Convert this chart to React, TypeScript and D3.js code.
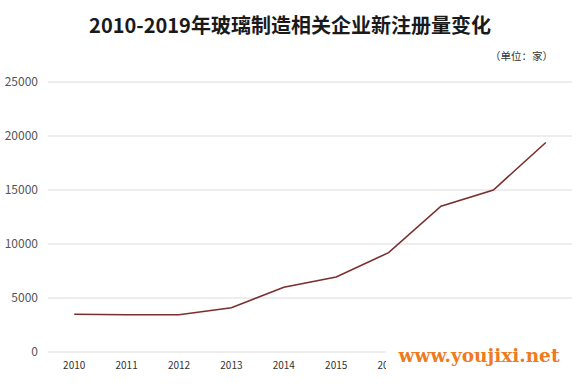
import React from 'react';
import * as d3 from 'd3';

const years = ['2010', '2011', '2012', '2013', '2014', '2015', '2016', '2017', '2018', '2019'];
const registrations = [3500, 3450, 3450, 4100, 6000, 6950, 9200, 13500, 15000, 19400];
const yTicks = [0, 5000, 10000, 15000, 20000, 25000];

const width = 580;
const height = 392;
const margin = { top: 82, right: 8, bottom: 40, left: 48 };
// white box of the watermark, it hides the last axis labels
const wm = { x: 386, y: 344 };

const App = () => {
  const x = d3.scaleBand<string>()
    .domain(years)
    .range([margin.left, width - margin.right]);

  const y = d3.scaleLinear()
    .domain([0, 25000])
    .range([height - margin.bottom, margin.top]);

  const cx = (yr: string) => (x(yr) as number) + x.bandwidth() / 2;

  const line = d3.line<number>()
    .x((_, i) => cx(years[i]))
    .y(d => y(d));

  const font = '"Noto Sans CJK SC", "Noto Sans", sans-serif';

  return (
    <svg
      width={width}
      height={height}
      style={{ position: 'absolute', left: 0, top: 0, background: '#fff' }}
    >
      <text
        x={290}
        y={33}
        textAnchor="middle"
        fontFamily={font}
        fontWeight="bold"
        fontSize={20}
        fill="#1a1a1a"
      >
        2010-2019年玻璃制造相关企业新注册量变化
      </text>
      <text x={553} y={60} textAnchor="end" fontFamily={font} fontSize={10.5} fill="#333">
        （单位：家）
      </text>

      {/* gridlines + y labels */}
      {yTicks.map(t => (
        <g key={t}>
          <line
            x1={margin.left}
            x2={width - margin.right}
            y1={y(t)}
            y2={y(t)}
            stroke="#dcdcdc"
            strokeWidth={1}
          />
          <text
            x={38}
            y={y(t)}
            dy="0.35em"
            textAnchor="end"
            fontFamily={font}
            fontSize={12}
            fill="#555"
          >
            {t}
          </text>
        </g>
      ))}

      {/* x labels (those fully under the watermark are not visible) */}
      {years.filter(yr => cx(yr) - 10 < wm.x).map(yr => (
        <text
          key={yr}
          x={cx(yr)}
          y={369}
          textAnchor="middle"
          fontFamily={font}
          fontSize={10}
          fill="#333"
        >
          {yr}
        </text>
      ))}

      <path d={line(registrations) || ''} fill="none" stroke="#7b2e2e" strokeWidth={1.6} />

      {/* watermark */}
      <rect x={wm.x} y={wm.y} width={width - wm.x} height={height - wm.y} fill="#fff" />
      <text
        x={479}
        y={362}
        textAnchor="middle"
        fontFamily='"DejaVu Serif", serif'
        fontWeight="bold"
        fontSize={18.5}
        fill="#f07a1e"
      >
        www.youjixi.net
      </text>
    </svg>
  );
};

export default App;
